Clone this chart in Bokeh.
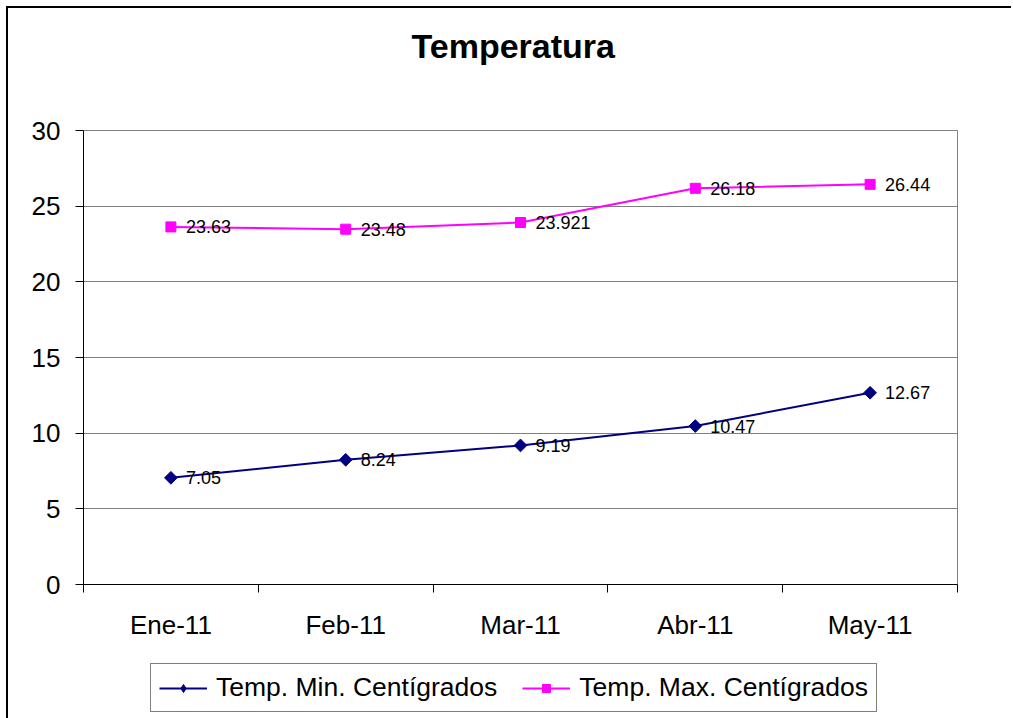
from bokeh.plotting import figure
from bokeh.layouts import column
from bokeh.models import (Range1d, FixedTicker, Legend, LegendItem, LabelSet,
                          ColumnDataSource, Label)
from bokeh.core.properties import value
from bokeh.embed import file_html
from bokeh.resources import INLINE

title = "Temperatura"
months = ["Ene-11", "Feb-11", "Mar-11", "Abr-11", "May-11"]
temp_min = [7.05, 8.24, 9.19, 10.47, 12.67]
temp_max = [23.63, 23.48, 23.921, 26.18, 26.44]
name_min = "Temp. Min. Centígrados"
name_max = "Temp. Max. Centígrados"
y_ticks = [0, 5, 10, 15, 20, 25, 30]

FONT = "Liberation Sans"
NAVY = "#000080"
MAGENTA = "#FF00FF"
W = 1003

xs = [i + 0.5 for i in range(len(months))]
src = ColumnDataSource(dict(
    x=xs, ymin=temp_min, ymax=temp_max,
    lmin=[str(v) for v in temp_min], lmax=[str(v) for v in temp_max],
))


def strip(height):
    f = figure(output_backend="svg", toolbar_location=None, title=None,
               width=W, height=height, min_border=0,
               x_axis_location=None, y_axis_location=None,
               x_range=Range1d(100, 101), y_range=Range1d(100, 101))
    f.grid.visible = False
    f.outline_line_color = None
    f.background_fill_color = "white"
    f.border_fill_color = "white"
    return f


# ---- title strip
head = strip(70)
head.add_layout(Label(x=328, y=33, x_units="screen", y_units="screen",
                      text=title, text_align="left", text_baseline="alphabetic",
                      text_font=FONT, text_font_size="34px",
                      text_font_style="bold", text_color="black"))

# ---- main chart
p = figure(output_backend="svg", toolbar_location=None, title=None,
           frame_width=874, frame_height=454,
           min_border_left=75, min_border_right=W - 75 - 874,
           min_border_top=52, min_border_bottom=60,
           x_range=Range1d(0, len(months)), y_range=Range1d(0, 30))
p.background_fill_color = "white"
p.border_fill_color = "white"
p.outline_line_color = "#808080"
p.outline_line_width = 1

p.xgrid.grid_line_color = None
p.ygrid.grid_line_color = "#808080"
p.ygrid.grid_line_width = 1

p.yaxis.ticker = FixedTicker(ticks=y_ticks)
p.yaxis.axis_line_color = "black"
p.yaxis.major_tick_line_color = "black"
p.yaxis.major_tick_out = 8
p.yaxis.major_tick_in = 0
p.yaxis.minor_tick_line_color = None
p.yaxis.major_label_text_font = FONT
p.yaxis.major_label_text_font_size = "26px"
p.yaxis.major_label_text_color = "black"
p.yaxis.major_label_standoff = 15

# labels at category centers, tick marks at category boundaries
p.xaxis.ticker = FixedTicker(ticks=xs, minor_ticks=list(range(len(months) + 1)))
p.xaxis.major_label_overrides = {x: m for x, m in zip(xs, months)}
p.xaxis.axis_line_color = "black"
p.xaxis.major_tick_out = 0
p.xaxis.major_tick_in = 0
p.xaxis.minor_tick_out = 8
p.xaxis.minor_tick_in = 0
p.xaxis.minor_tick_line_color = "black"
p.xaxis.major_label_text_font = FONT
p.xaxis.major_label_text_font_size = "26px"
p.xaxis.major_label_text_color = "black"
p.xaxis.major_label_standoff = 17


def add_series(fig, ycol, color, marker, angle, size):
    ln = fig.line("x", ycol, source=src, line_color=color, line_width=2)
    mk = fig.scatter("x", ycol, source=src, marker=marker, size=size,
                     angle=angle, fill_color=color, line_color=color)
    return ln, mk


add_series(p, "ymin", NAVY, "square", 0.785398, 9)
add_series(p, "ymax", MAGENTA, "square", 0.0, 10)

for col_y, col_l in (("ymin", "lmin"), ("ymax", "lmax")):
    p.add_layout(LabelSet(x="x", y=col_y, text=col_l, source=src,
                          x_offset=15, y_offset=0, text_baseline="middle",
                          text_align="left", text_font=value(FONT),
                          text_font_size="18px", text_color="black"))

# ---- legend strip (same series, drawn out of view; only the legend shows)
leg = strip(74)
g1 = add_series(leg, "ymin", NAVY, "diamond", 0.0, 13)
g2 = add_series(leg, "ymax", MAGENTA, "square", 0.0, 9)
legend = Legend(items=[LegendItem(label=name_min, renderers=list(g1)),
                       LegendItem(label=name_max, renderers=list(g2))],
                orientation="horizontal", location=(67, 6),
                label_text_font=FONT, label_text_font_size="26.5px",
                label_text_color="black",
                glyph_width=48, glyph_height=20, label_standoff=9,
                spacing=25, padding=8, margin=0,
                border_line_color="black", border_line_width=1,
                background_fill_color="white", background_fill_alpha=1)
leg.add_layout(legend, "center")

layout = column(head, p, leg, spacing=0)
layout.styles = {"margin-left": "6px", "margin-top": "6px",
                 "border-left": "2px solid black",
                 "border-top": "2px solid black"}

open("out.html", "w").write(file_html(layout, INLINE))
